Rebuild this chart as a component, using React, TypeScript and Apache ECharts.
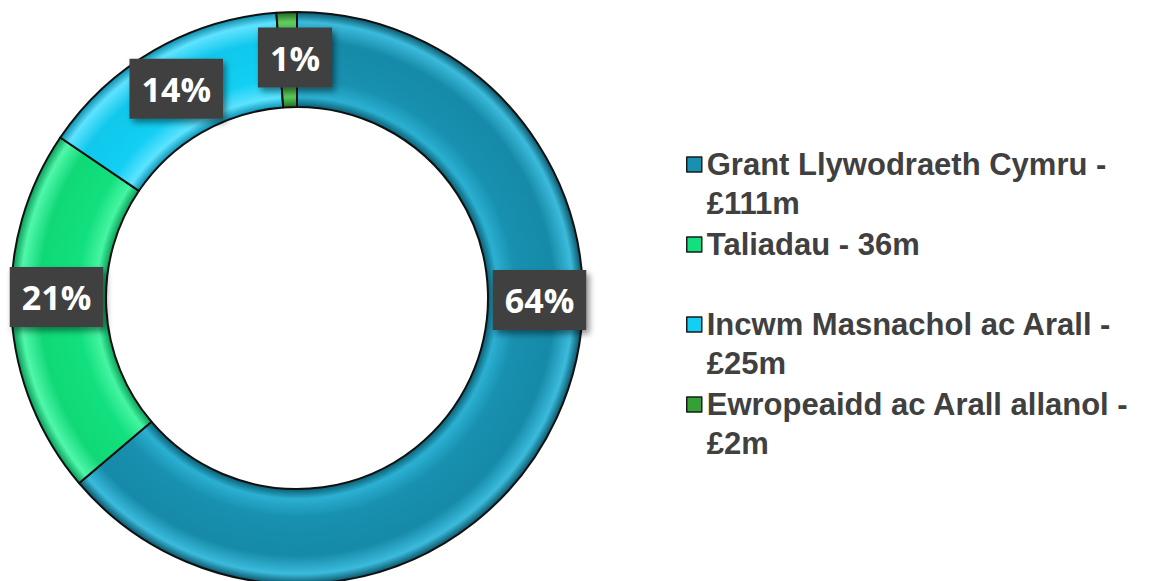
import React, { useEffect, useRef } from "react";
import * as echarts from "echarts";

const categories = [
  "Grant Llywodraeth Cymru - £111m",
  "Taliadau - 36m",
  "Incwm Masnachol ac Arall - £25m",
  "Ewropeaidd ac Arall allanol - £2m",
];
const legendLines = [
  ["Grant Llywodraeth Cymru -", "£111m"],
  ["Taliadau - 36m", " "],
  ["Incwm Masnachol ac Arall -", "£25m"],
  ["Ewropeaidd ac Arall allanol -", "£2m"],
];
const values = [111, 36, 25, 2];
const baseColors = ["#1890af", "#12e07e", "#12cff3", "#35a035"];
const shades = [
  ["#0a5d72", "#2bb0d2", "#1890af", "#168aa8", "#3bbbdc", "#0a5568"],
  ["#07a058", "#45f5a2", "#12e07e", "#10d877", "#50f7aa", "#079a55"],
  ["#0a93b3", "#5ce3ff", "#12cff3", "#10c8ec", "#5fe2ff", "#0a8aa8"],
  ["#1f6e1f", "#5cc85c", "#35a035", "#319a31", "#62cc62", "#1d661d"],
];

const CX = 297;
const CY = 298;
const R_IN = 191;
const R_OUT = 286;
const R_MID = (R_IN + R_OUT) / 2;

export default function App() {
  const ref = useRef<HTMLDivElement>(null);
  useEffect(() => {
    if (!ref.current) return;
    const chart = echarts.init(ref.current, null, { renderer: "svg" });
    const inner = R_IN / R_OUT;
    const grad = (s: string[]) => ({
      type: "radial",
      x: CX,
      y: CY,
      r: R_OUT,
      global: true,
      colorStops: [
        { offset: 0, color: s[0] },
        { offset: inner, color: s[0] },
        { offset: inner + 0.035, color: s[1] },
        { offset: inner + 0.1, color: s[2] },
        { offset: 0.9, color: s[3] },
        { offset: 0.965, color: s[4] },
        { offset: 1, color: s[5] },
      ],
    });
    chart.setOption({
      animation: false,
      backgroundColor: "#ffffff",
      legend: {
        orient: "vertical",
        left: 686,
        top: 106,
        padding: 0,
        itemGap: -37,
        itemWidth: 15,
        itemHeight: 15,
        icon: "rect",
        selectedMode: false,
        data: categories.map((c, i) => ({
          name: c,
          itemStyle: { color: baseColors[i], borderColor: "#1a1a1a", borderWidth: 1.5 },
        })),
        formatter: (name: string) => {
          const i = categories.indexOf(name);
          return "\n" + legendLines[i][0] + "\n" + legendLines[i][1];
        },
        textStyle: {
          fontFamily: "Liberation Sans",
          fontWeight: "bold",
          fontSize: 31,
          lineHeight: 39,
          color: "#404040",
        },
      },
      series: [
        {
          type: "pie",
          center: [CX, CY],
          radius: [R_IN, R_OUT],
          startAngle: 90,
          clockwise: true,
          avoidLabelOverlap: false,
          itemStyle: { borderColor: "#111111", borderWidth: 2 },
          label: {
            show: true,
            position: "inside",
            formatter: (p: any) => Math.round(p.percent) + "%",
            color: "#ffffff",
            fontFamily: "Open Sans",
            fontWeight: "bold",
            fontSize: 34,
            lineHeight: 46,
            backgroundColor: "#404040",
            padding: [7, 12, 7, 12],
            shadowColor: "rgba(0,0,0,0.45)",
            shadowBlur: 6,
            shadowOffsetX: 3,
            shadowOffsetY: 4,
          },
          labelLine: { show: false },
          labelLayout: (params: any) => {
            if (params.dataIndex === 0) return { x: CX + R_MID + 4, y: CY + 2 };
            if (params.dataIndex === 1) return { x: CX - R_MID - 2, y: CY - 1 };
            if (params.dataIndex === 3) return { x: CX - 2, y: CY - R_MID - 2 };
            return {};
          },
          data: categories.map((c, i) => ({
            name: c,
            value: values[i],
            itemStyle: { color: grad(shades[i]) },
          })),
        },
      ],
    });
    return () => chart.dispose();
  }, []);
  return (
    <div
      ref={ref}
      style={{ position: "fixed", left: 0, top: 0, width: 1152, height: 581 }}
    />
  );
}
